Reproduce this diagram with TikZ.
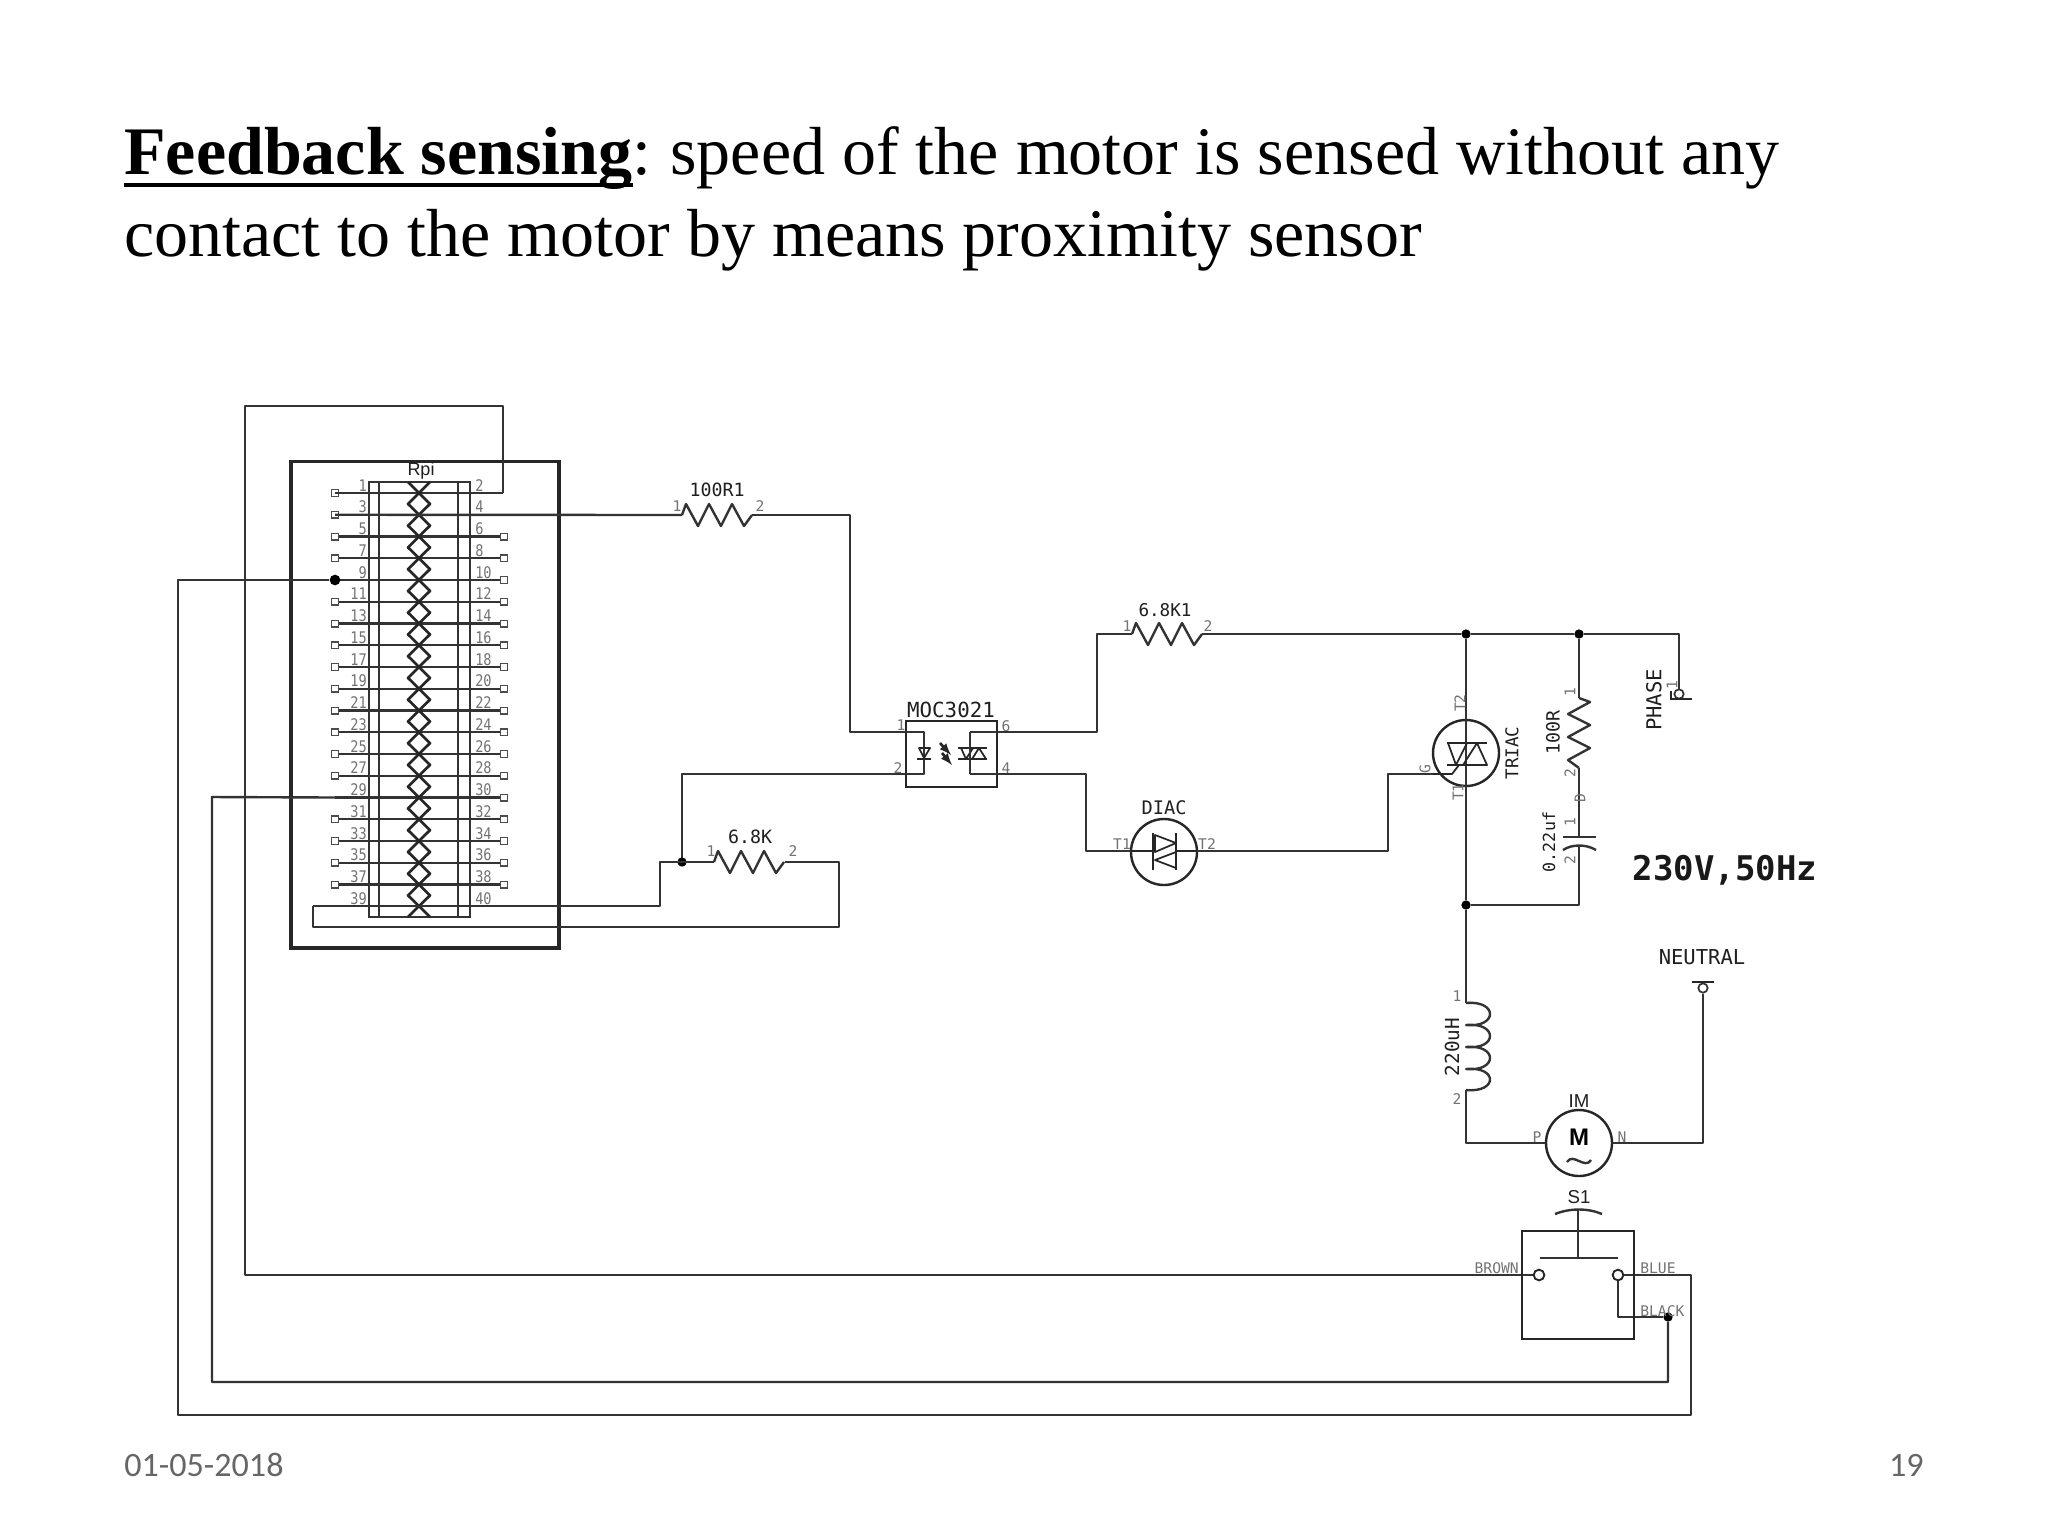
\documentclass[tikz,border=0pt]{standalone}
\usepackage{fontspec}
\setmainfont{Liberation Serif}
\newfontfamily\cadfont{DejaVu Sans Mono}
\newfontfamily\cadnarrow{DejaVu Sans Mono}[FakeStretch=0.85]
\newfontfamily\plainsans{Liberation Sans}
\newfontfamily\footfont{Carlito}

% one unit is one pixel of the 2048x1536 sheet, y runs downward
\newcommand{\resistor}[3]{% x, y, rotation
  \draw[wire,shift={(#1,#2)},rotate=#3]
    (0,0) -- ++(4,-11) -- ++(12,22) -- ++(11,-22) -- ++(12,22) -- ++(11,-22) -- ++(12,22) -- ++(8,-11);
}

\tikzset{
  wire/.style={line width=1.8pt,draw=black!80,line join=round},
  thinw/.style={line width=1.3pt,draw=black!85,line join=round},
  diam/.style={line width=2pt,draw=black!85,line join=round},
  dot/.style={circle,fill=black,inner sep=0pt,minimum size=7pt},
  pad/.style={rectangle,draw=black!70,line width=1pt,fill=white,inner sep=0pt,minimum size=5pt},
  pinno/.style={font=\cadnarrow\fontsize{12}{12}\selectfont,text=black!55,inner sep=0pt},
  tag/.style={font=\cadfont\fontsize{11}{11}\selectfont,text=black!55,inner sep=0pt},
  lbl/.style={text=black!88,inner sep=0pt},
  pole/.style={circle,draw=black!85,line width=1.8pt,fill=white,inner sep=0pt,minimum size=49.5pt},
  contact/.style={circle,draw=black!85,line width=1.4pt,fill=white,inner sep=0pt,minimum size=8pt}
}
\newcommand{\sz}[1]{\cadfont\fontsize{#1}{#1}\selectfont}

\begin{document}
\begin{tikzpicture}[x=0.75pt,y=-0.75pt]
\useasboundingbox (0,0) rectangle (2048,1536);
\fill[white] (0,0) rectangle (2048,1536);

% title
\node[anchor=base west,inner sep=0pt,font=\fontsize{51}{51}\selectfont\bfseries] (fb) at (124,174) {Feedback sensing};
\node[anchor=base west,inner sep=0pt,font=\fontsize{51}{51}\selectfont] (title1) at (fb.base east)
  {:\hspace{-3pt} speed of the motor is sensed without any};
\node[anchor=base west,inner sep=0pt,font=\fontsize{51}{51}\selectfont] (title2) at (124,256)
  {contact to the motor by means proximity sensor};
\coordinate (ul) at (124,185);
\draw[line width=2.6pt] (ul) -- (ul -| fb.east);
% footer
\node[anchor=west,inner sep=0pt,text=black!60,font=\footfont\fontsize{25.6}{25.6}\selectfont] (date) at (124,1465) {01-05-2018};
\node[anchor=east,inner sep=0pt,text=black!60,font=\footfont\fontsize{25.6}{25.6}\selectfont] (page) at (1924,1465) {19};

% header board
\node[draw=black!85,line width=2.5pt,minimum width=201pt,minimum height=365pt,inner sep=0pt] (board) at (425,704.5) {};
\node[draw=black!80,line width=1.6pt,minimum width=75.75pt,minimum height=326pt,inner sep=0pt] (header) at (419.5,699.5) {};
\draw[wire] (379,482) -- (379,917);
\draw[wire] (458,482) -- (458,917);
\node[lbl,font=\plainsans\fontsize{13.5}{13.5}\selectfont] (rpi) at (421,471) {Rpi};

% pins: rows 21.75 px apart
\foreach \r in {0,...,19} {
  \pgfmathsetmacro{\yy}{493+21.75*\r}
  \pgfmathtruncatemacro{\odd}{2*\r+1}
  \pgfmathtruncatemacro{\even}{2*\r+2}
  \node[pinno,anchor=base east] (no\odd) at (367,\yy-2) {\odd};
  \node[pinno,anchor=base west] (no\even) at (475,\yy-2) {\even};
  \coordinate (pl\odd) at (335,\yy);
  \coordinate (pr\even) at (504,\yy);
}
\foreach \r in {2,...,18} {
  \pgfmathtruncatemacro{\odd}{2*\r+1}
  \pgfmathtruncatemacro{\even}{2*\r+2}
  \draw[wire] (pl\odd) -- (pr\even);
}
\foreach \k in {1,3,5,7,11,13,15,17,19,21,23,25,27,31,33,35,37} \node[pad] at (pl\k) {};
\foreach \k in {6,8,10,12,14,16,18,20,22,24,26,28,30,32,34,36,38} \node[pad] at (pr\k) {};
\draw[wire] (pl1) -- (503,493);
\node[dot,minimum size=8pt] (d9) at (pl9) {};

% diamonds between the rows
\foreach \r in {0,...,18} {
  \pgfmathsetmacro{\ya}{493+21.75*\r}
  \pgfmathsetmacro{\yb}{\ya+10.875}
  \pgfmathsetmacro{\yc}{\ya+21.75}
  \draw[diam] (419,\ya) -- (430,\yb) -- (419,\yc) -- (408,\yb) -- cycle;
}
\draw[diam] (408,482) -- (419,493) -- (430,482);
\draw[diam] (408,917) -- (419,906) -- (430,917);

% feedback wires
\node[dot] (jblack) at (1668,1317) {};
\node[contact] (cl) at (1539,1275) {};
\node[contact] (cr) at (1618,1275) {};
\draw[wire] (cl) -- (245,1275) -- (245,406) -- (503,406) -- (503,493);
\draw[wire] (cr) -- (1691,1275) -- (1691,1415) -- (178,1415) -- (178,580) -- (d9);
\draw[wire] (cr) -- (1618,1317) -- (jblack);
\draw[wire] (jblack) -- (1668,1382) -- (212,1382) -- (212,797) -- (pl29);

% pin 4 to R1 to optocoupler
\draw[wire] (pl3) -- (682,515);
\resistor{682}{515}{0}
\node[lbl,font=\sz{13.7}] (r1l) at (717,490) {100R1};
\node[tag] at (677,506) {1};
\node[tag] at (760,506) {2};
\node[draw=black!85,line width=1.7pt,minimum width=68pt,minimum height=49.5pt,inner sep=0pt] (moc) at (951.5,754) {};
\node[lbl,font=\sz{15.6}] (mocl) at (951,710) {MOC3021};
\draw[wire] (752,515) -- (850,515) -- (850,732) -- (924,732) -- (924,774) -- (682,774) -- (682,862);
\node[tag] at (901,725) {1};
\node[tag] at (898,768) {2};
\node[tag] at (1006,726) {6};
\node[tag] at (1006,768) {4};
% LED and triac inside the optocoupler
\draw[thinw] (919,748) -- (930,748) -- (924,758) -- cycle;
\draw[thinw] (917,759) -- (931,759);
\draw[thinw] (958,748) -- (987,748);
\draw[thinw] (958,759) -- (987,759);
\draw[thinw] (961,748) -- (966,759) -- (973,748);
\draw[thinw] (972,759) -- (979,748) -- (986,759);
\draw[line width=2pt,draw=black!85,-latex] (940,743) -- (951,755);
\draw[line width=2pt,draw=black!85,-latex] (942,753) -- (952,765);

% 6.8K pull resistor and the loop round the header
\node[dot] (j68) at (682,862) {};
\draw[wire] (313,906) -- (660,906) -- (660,862) -- (714,862);
\resistor{714}{862}{0}
\draw[wire] (785,862) -- (839,862) -- (839,927) -- (313,927) -- (313,906);
\node[lbl,font=\sz{13.7}] (r68l) at (750,837) {6.8K};
\node[tag] at (711,851) {1};
\node[tag] at (793,851) {2};

% output side
\draw[wire] (970,732) -- (1097,732) -- (1097,634) -- (1132,634);
\draw[wire] (970,732) -- (970,774);
\resistor{1132}{634}{0}
\node[lbl,font=\sz{13.2}] (r681l) at (1165,610) {6.8K1};
\node[tag] at (1127,626) {1};
\node[tag] at (1208,626) {2};
\node[dot] (jt) at (1466,634) {};
\node[dot] (jr) at (1579,634) {};
\node[dot] (jb) at (1466,905) {};
\draw[wire] (1202,634) -- (jt) -- (jr) -- (1679,634) -- (1679,689);

% diac
\node[pole] (diac) at (1164,852) {};
\coordinate (dl) at (1131,851);
\coordinate (dr) at (1197,851);
\draw[wire] (970,774) -- (1086,774) -- (1086,851) -- (dl);
\draw[wire] (dr) -- (1388,851) -- (1388,774) -- (1433,774);
\draw[thinw] (dl) -- (1153,851);
\draw[thinw] (1176,851) -- (dr);
\draw[thinw] (1153,833) -- (1153,870);
\draw[thinw] (1176,833) -- (1176,870);
\draw[thinw] (1155,835) -- (1176,843) -- (1155,852) -- cycle;
\draw[thinw] (1176,852) -- (1155,860) -- (1176,868) -- cycle;
\node[lbl,font=\sz{14}] (diacl) at (1164,808) {DIAC};
\node[tag] at (1122,844) {T1};
\node[tag] at (1207,844) {T2};

% triac
\node[pole] (triac) at (1466,753) {};
\draw[wire] (jt) -- (jb);
\draw[thinw] (1447,743) -- (1487,743);
\draw[thinw] (1447,765) -- (1487,765);
\draw[thinw] (1448,743) -- (1456,765) -- (1467,743) -- cycle;
\draw[thinw] (1463,765) -- (1477,743) -- (1487,765) -- cycle;
\draw[thinw] (1433,774) -- (1452,774) -- (1459,765);
\node[tag,rotate=90] at (1460,703) {T2};
\node[tag,rotate=90] at (1458,792) {T1};
\node[tag,rotate=90] at (1425,769) {G};
\node[lbl,rotate=90,font=\sz{13.2}] (triacl) at (1512,753) {TRIAC};

% snubber
\draw[wire] (jr) -- (1579,698);
\resistor{1579}{698}{-90}
\draw[wire] (1579,768) -- (1579,837);
\draw[wire] (1563,837) -- (1596,837);
\draw[wire] (1563,850) .. controls (1572,844) and (1586,844) .. (1596,850);
\draw[wire] (1579,845) -- (1579,905) -- (jb);
\node[lbl,rotate=90,font=\sz{13.7}] (r100l) at (1553,732) {100R};
\node[lbl,rotate=90,font=\sz{12.5}] (c22l) at (1549,842) {0.22uf};
\node[tag,rotate=90] at (1570,692) {1};
\node[tag,rotate=90] at (1570,773) {2};
\node[tag,rotate=90] at (1580,798) {D};
\node[tag,rotate=90] at (1570,822) {1};
\node[tag,rotate=90] at (1570,860) {2};
\node[inner sep=0pt,font=\cadfont\bfseries\fontsize{25.5}{25.5}\selectfont,text=black!90] (mains) at (1725,870) {230V,50Hz};

% phase terminal
\node[circle,draw=black!80,line width=1.3pt,inner sep=0pt,minimum size=7pt] (ph) at (1679,694) {};
\draw[thinw] (1670,699) -- (1692,699);
\draw[thinw] (1671,699) -- (1671,691);
\node[tag,rotate=90] at (1672,685) {1};
\node[lbl,rotate=90,font=\sz{15.4}] (phl) at (1654,700) {PHASE};

% neutral, inductor, motor
\node[lbl,font=\sz{15.4}] (neul) at (1702,957) {NEUTRAL};
\draw[thinw] (1692,982) -- (1714,982);
\node[circle,draw=black!80,line width=1.3pt,inner sep=0pt,minimum size=7pt] (ne) at (1703,988) {};
\node[pole] (motor) at (1579,1143) {};
\draw[wire] (ne) -- (1703,1143) -- (motor);
\draw[wire] (motor) -- (1466,1143) -- (1466,1090);
\draw[wire] (1466,1003) .. controls (1498,1000) and (1498,1028) .. (1466,1025)
  .. controls (1498,1022) and (1498,1050) .. (1466,1047)
  .. controls (1498,1044) and (1498,1072) .. (1466,1069)
  .. controls (1498,1066) and (1498,1093) .. (1466,1090);
\draw[wire] (jb) -- (1466,1003);
\node[lbl,rotate=90,font=\sz{14.5}] (ll) at (1452,1047) {220uH};
\node[tag] at (1457,996) {1};
\node[tag] at (1457,1099) {2};
\node[lbl,font=\plainsans\fontsize{14}{14}\selectfont] (iml) at (1579,1101) {IM};
\node[inner sep=0pt,font=\plainsans\bfseries\fontsize{18}{18}\selectfont] (ml) at (1579,1137) {M};
\draw[wire] (1567,1162) .. controls (1573,1152) and (1585,1170) .. (1591,1160);
\node[tag] at (1537,1137) {P};
\node[tag] at (1622,1137) {N};

% switch
\node[draw=black!85,line width=1.8pt,minimum width=84pt,minimum height=81pt,inner sep=0pt] (sw) at (1578,1285) {};
\node[lbl,font=\plainsans\fontsize{14}{14}\selectfont] (s1l) at (1579,1197) {S1};
\draw[wire] (1555,1214) .. controls (1570,1208) and (1588,1208) .. (1602,1214);
\draw[wire] (1578,1210) -- (1578,1258);
\draw[wire] (1540,1258) -- (1618,1258);
\node[tag,anchor=east] at (1519,1268) {BROWN};
\node[tag,anchor=west] at (1640,1268) {BLUE};
\node[tag,anchor=west] at (1640,1311) {BLACK};
\end{tikzpicture}
\end{document}
